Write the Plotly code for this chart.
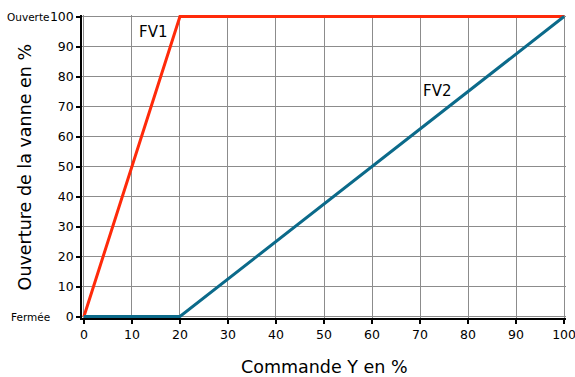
import plotly.graph_objects as go

# Valve opening (%) versus control signal Y (%)
fv1_x = [0, 20, 100]
fv1_y = [0, 100, 100]
fv2_x = [0, 20, 100]
fv2_y = [0, 0, 100]

tick_vals = [0, 10, 20, 30, 40, 50, 60, 70, 80, 90, 100]

RED = "#ff2a0a"
BLUE = "#0b6a8a"
FONT = "DejaVu Sans"

fig = go.Figure()
fig.add_trace(go.Scatter(x=fv1_x, y=fv1_y, mode="lines",
                         line=dict(color=RED, width=3), name="FV1"))
fig.add_trace(go.Scatter(x=fv2_x, y=fv2_y, mode="lines",
                         line=dict(color=BLUE, width=3), name="FV2"))

axis_common = dict(
    tickvals=tick_vals,
    showgrid=True, gridcolor="#8c8c8c", gridwidth=1,
    zeroline=False,
    showline=True, linecolor="black", linewidth=1.5,
    ticks="outside", ticklen=4, tickcolor="black", tickwidth=1.5,
    tickfont=dict(family=FONT, size=12.5, color="black"),
    ticklabeloverflow="allow",
    automargin=False,
)

fig.update_layout(
    width=575, height=377,
    margin=dict(l=82, r=9, t=14.5, b=58.5),
    paper_bgcolor="white", plot_bgcolor="white",
    showlegend=False,
    xaxis=dict(range=[-0.4, 100.4], **axis_common),
    yaxis=dict(range=[-0.5, 100.5], **axis_common),
    font=dict(family=FONT, color="black"),
)

annotations = [
    dict(x=14.3, y=94.7, xref="x", yref="y", text="FV1", showarrow=False,
         font=dict(size=15)),
    dict(x=73.5, y=75.3, xref="x", yref="y", text="FV2", showarrow=False,
         font=dict(size=15)),
    dict(x=-0.062, y=100, xref="paper", yref="y", text="Ouverte", showarrow=False,
         xanchor="right", font=dict(size=10.5)),
    dict(x=-0.062, y=0, xref="paper", yref="y", text="Fermée", showarrow=False,
         xanchor="right", font=dict(size=10.5)),
    dict(x=0.5, y=-0.122, xref="paper", yref="paper", text="Commande Y en %",
         showarrow=False, yanchor="top", font=dict(size=17.5)),
    dict(x=-0.118, y=0.5, xref="paper", yref="paper",
         text="Ouverture de la vanne en %", textangle=-90,
         showarrow=False, xanchor="center", font=dict(size=17.5)),
]
fig.update_layout(annotations=annotations)

fig.write_html("out.html")
